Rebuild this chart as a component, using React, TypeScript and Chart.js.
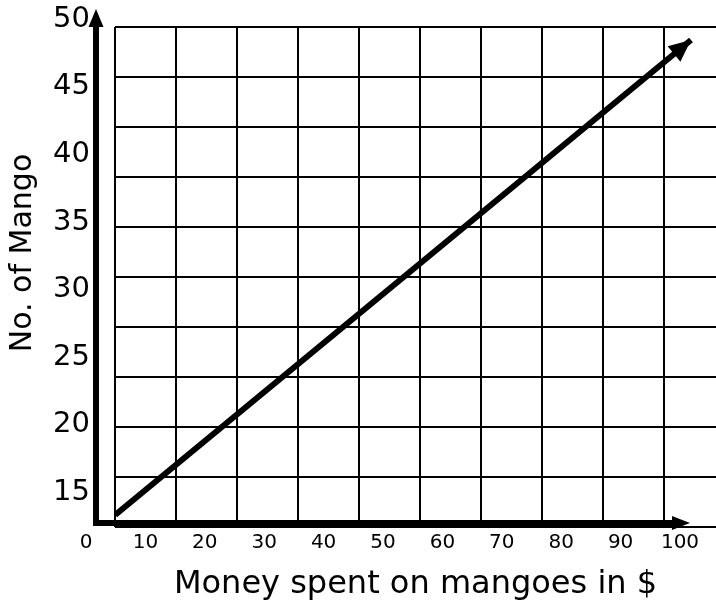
import { useEffect, useRef } from "react";
import { Chart, registerables } from "chart.js";

Chart.register(...registerables);

// ---- data ----
const xTickValues = [0, 10, 20, 30, 40, 50, 60, 70, 80, 90, 100];
const yTickValues = [15, 20, 25, 30, 35, 40, 45, 50];
const gridColumns = [0, 1, 2, 3, 4, 5, 6, 7, 8, 9];
const gridRows = [0, 1, 2, 3, 4, 5, 6, 7, 8, 9, 10];
const moneySpent = [4.9, 101.85];
const mangoCount = [13.3, 48.48];
const xTitle = "Money spent on mangoes in $";
const yTitle = "No. of Mango";

const FONT = "'DejaVu Sans', Verdana, sans-serif";

const decorPlugin = {
  id: "decor",
  afterDatasetsDraw(chart: any) {
    const { ctx, chartArea: a } = chart;
    ctx.save();
    ctx.fillStyle = "#000";
    ctx.strokeStyle = "#000";

    // y axis with arrow
    const ax = a.left - 19;
    const ay = a.bottom - 4;
    ctx.lineWidth = 6;
    ctx.lineCap = "butt";
    ctx.beginPath();
    ctx.moveTo(ax, ay + 3);
    ctx.lineTo(ax, a.top - 4);
    ctx.stroke();
    ctx.beginPath();
    ctx.moveTo(ax, a.top - 18);
    ctx.lineTo(ax - 7.5, a.top);
    ctx.lineTo(ax + 7.5, a.top);
    ctx.closePath();
    ctx.fill();

    // x axis with arrow
    const tipX = a.right - 26;
    ctx.beginPath();
    ctx.moveTo(ax - 3, ay);
    ctx.lineTo(tipX - 15, ay);
    ctx.stroke();
    ctx.beginPath();
    ctx.moveTo(tipX, ay);
    ctx.lineTo(tipX - 18, ay - 7);
    ctx.lineTo(tipX - 18, ay + 7);
    ctx.closePath();
    ctx.fill();

    // arrowhead on the data line
    const meta = chart.getDatasetMeta(0);
    const pts = meta.data;
    if (pts.length >= 2) {
      const p1 = pts[pts.length - 2];
      const p2 = pts[pts.length - 1];
      const dx = p2.x - p1.x;
      const dy = p2.y - p1.y;
      const len = Math.hypot(dx, dy);
      const ux = dx / len;
      const uy = dy / len;
      const L = 22;
      const W = 10;
      const bx = p2.x - ux * L;
      const by = p2.y - uy * L;
      ctx.beginPath();
      ctx.moveTo(p2.x, p2.y);
      ctx.lineTo(bx - uy * W, by + ux * W);
      ctx.lineTo(bx + uy * W, by - ux * W);
      ctx.closePath();
      ctx.fill();
    }

    // y axis title
    ctx.font = `30px ${FONT}`;
    ctx.fillStyle = "#000";
    ctx.textAlign = "center";
    ctx.textBaseline = "middle";
    ctx.translate(23.5, a.top + 226);
    ctx.rotate(-Math.PI / 2);
    ctx.fillText(yTitle, 0, 0);
    ctx.restore();
  },
};

function zeroPad(scale: any) {
  scale.paddingTop = 0;
  scale.paddingBottom = 0;
  scale.paddingLeft = 0;
  scale.paddingRight = 0;
}

export default function App() {
  const ref = useRef<HTMLCanvasElement | null>(null);

  useEffect(() => {
    if (!ref.current) return;
    const points = moneySpent.map((m, i) => ({ x: m, y: mangoCount[i] }));
    const chart = new Chart(ref.current, {
      type: "line",
      data: {
        datasets: [
          {
            data: points,
            xAxisID: "x",
            yAxisID: "y",
            borderColor: "#000",
            borderWidth: 6,
            pointRadius: 0,
            fill: false,
            tension: 0,
          },
        ],
      },
      options: {
        responsive: false,
        animation: false,
        events: [],
        layout: { padding: { top: 27, left: 0, right: 0, bottom: 0 } },
        plugins: { legend: { display: false }, tooltip: { enabled: false } },
        scales: {
          x: {
            type: "linear",
            position: "bottom",
            min: 4.88,
            max: 106.06,
            bounds: "data",
            afterBuildTicks: (s: any) => {
              s.ticks = xTickValues.map((v) => ({ value: v }));
            },
            afterFit: (s: any) => {
              s.height = 77;
              zeroPad(s);
            },
            ticks: {
              autoSkip: false,
              maxRotation: 0,
              padding: 4,
              color: "#000",
              font: { family: FONT, size: 20 },
              callback: (v: any) => String(v),
            },
            grid: { display: false, drawTicks: false },
            border: { display: false },
            title: {
              display: true,
              text: xTitle,
              color: "#000",
              font: { family: FONT, size: 32 },
              padding: { top: 0, bottom: 0 },
            },
          },
          y: {
            type: "linear",
            position: "left",
            min: 12.41,
            max: 49.44,
            bounds: "data",
            afterBuildTicks: (s: any) => {
              s.ticks = yTickValues.map((v) => ({ value: v }));
            },
            afterFit: (s: any) => {
              s.width = 115;
              zeroPad(s);
            },
            ticks: {
              autoSkip: false,
              padding: 25,
              color: "#000",
              font: { family: FONT, size: 29 },
              callback: (v: any) => String(v),
            },
            grid: { display: false, drawTicks: false },
            border: { display: false },
          },
          xg: {
            type: "linear",
            position: "bottom",
            min: 0,
            max: 601 / 61,
            bounds: "data",
            afterBuildTicks: (s: any) => {
              s.ticks = gridColumns.map((v) => ({ value: v }));
            },
            afterFit: (s: any) => {
              s.height = 0;
              zeroPad(s);
            },
            ticks: { display: false },
            grid: { color: "#000", lineWidth: 2, drawTicks: false },
            border: { display: false },
          },
          yg: {
            type: "linear",
            position: "left",
            min: 0,
            max: 10,
            bounds: "data",
            afterBuildTicks: (s: any) => {
              s.ticks = gridRows.map((v) => ({ value: v }));
            },
            afterFit: (s: any) => {
              s.width = 0;
              zeroPad(s);
            },
            ticks: { display: false },
            grid: { color: "#000", lineWidth: 2, drawTicks: false },
            border: { display: false },
          },
        },
      },
      plugins: [decorPlugin],
    } as any);
    return () => chart.destroy();
  }, []);

  return (
    <div style={{ position: "absolute", left: 0, top: 0, width: 716, height: 604, background: "#fff" }}>
      <canvas ref={ref} width={716} height={604} style={{ display: "block" }} />
    </div>
  );
}
